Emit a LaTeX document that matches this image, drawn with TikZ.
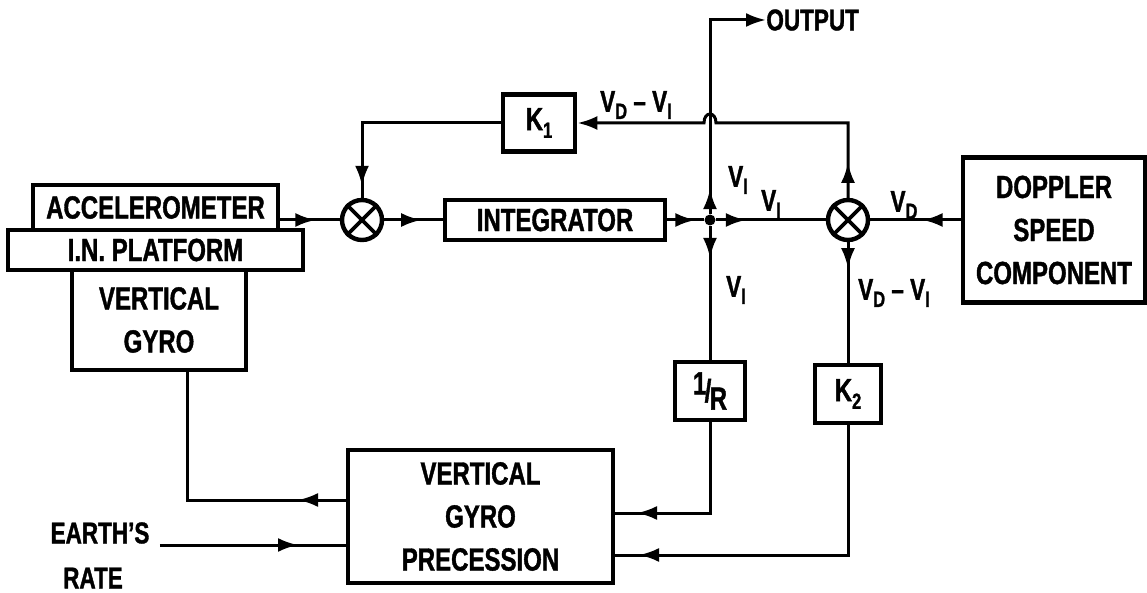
\documentclass[tikz,border=0pt]{standalone}
\usepackage{fontspec}
\setmainfont{Liberation Sans}[FakeStretch=0.75, BoldFeatures={FakeBold=1.2}]
\usetikzlibrary{arrows.meta,decorations.markings}
\newcommand\lsub[1]{\raisebox{-0.45ex}{\fontsize{11}{11}\selectfont #1}}
\begin{document}
\begin{tikzpicture}[x=0.5pt,y=-0.5pt,
  blk/.style={draw,line width=2.4pt,inner sep=0pt,align=center,font=\bfseries\fontsize{16}{21.5}\selectfont},
  lbl/.style={font=\bfseries\fontsize{15}{17}\selectfont,inner sep=0pt},
  sumj/.style={draw,circle,line width=2.2pt,minimum size=20pt,inner sep=0pt},
  wire/.style={line width=1.5pt},
  tip/.style={-{Latex[length=10pt,width=7pt]}},
  arrat/.style={postaction={decorate},decoration={markings,mark=at position #1 with {\arrow{Latex[length=10pt,width=7pt]}}}},
]
\useasboundingbox (0,0) rectangle (1147,593);

% blocks
\node[blk,minimum width=122.5pt,minimum height=22.5pt] (acc) at (155.5,207.5) {ACCELEROMETER};
\node[blk,minimum width=147.5pt,minimum height=20pt] (plat) at (155.5,250) {I.N. PLATFORM};
\node[blk,minimum width=87pt,minimum height=50pt] (gyro) at (159,320) {VERTICAL\\GYRO};
\node[sumj] (s1) at (362,220) {};
\node[blk,minimum width=110pt,minimum height=20pt] (int) at (555,220) {INTEGRATOR};
\node[circle,fill,inner sep=0pt,minimum size=5.5pt] (br) at (710,220) {};
\node[sumj] (s2) at (848,220) {};
\node[blk,minimum width=91pt,minimum height=72.5pt] (dop) at (1054,230) {DOPPLER\\SPEED\\COMPONENT};
\node[blk,minimum width=36pt,minimum height=28.5pt] (k1) at (539,123) {K\lsub{1}};
\node[blk,minimum width=35pt,minimum height=29pt] (ir) at (710,391) {\raisebox{0.45ex}{1}\kern-0.05em/\kern-0.05em\raisebox{-0.45ex}{R}};
\node[blk,minimum width=33pt,minimum height=29pt] (k2) at (848,394) {K\lsub{2}};
\node[blk,minimum width=132.5pt,minimum height=66.5pt] (prec) at (480.5,516.5) {VERTICAL\\GYRO\\PRECESSION};

% texts
\node[anchor=west,inner sep=0pt,font=\bfseries\fontsize{15}{18}\selectfont] (out) at (766,20) {OUTPUT};
\node[inner sep=0pt,font=\bfseries\fontsize{15}{18}\selectfont] (earth) at (100,533) {EARTH’S};
\node[inner sep=0pt,font=\bfseries\fontsize{15}{18}\selectfont] (rate) at (93,578) {RATE};
\node[lbl] (l1) at (636,105) {V\lsub{D} – V\lsub{I}};
\node[lbl] (l2) at (738,180) {V\lsub{I}};
\node[lbl] (l3) at (771,204) {V\lsub{I}};
\node[lbl] (l4) at (736,290) {V\lsub{I}};
\node[lbl] (l5) at (904,205) {V\lsub{D}};
\node[lbl] (l6) at (894,293) {V\lsub{D} – V\lsub{I}};

% crosses in summing junctions
\draw[line width=1.9pt] (s1.45) -- (s1.225) (s1.135) -- (s1.315);
\draw[line width=1.9pt] (s2.45) -- (s2.225) (s2.135) -- (s2.315);

% coordinates
\coordinate (tr) at (848,123);
\coordinate (hr) at (716,123);
\coordinate (hl) at (704,123);
\coordinate (pg) at (348,500);
\coordinate (gb) at (187,370);
\coordinate (pe) at (348,545);
\coordinate (p1) at (613,513);
\coordinate (p2) at (613,555);

% connectors
\draw[wire,arrat=17.5pt] (acc.east |- s1) -- (s1.west);
\draw[wire,arrat=18.5pt] (s1.east) -- (int.west);
\draw[wire,arrat=14pt] (int.east) -- (br);
\draw[wire,arrat=15pt] (br) -- (s2.west);
\draw[wire,arrat=19pt] (s2 -| dop.west) -- (s2.east);
\draw[wire,arrat=12.5pt,tip] (br) |- (out.west);
\draw[wire,arrat=16pt] (br) -- (ir.north);
\draw[wire,arrat=17.5pt,tip] (s2.north) -- (tr) -- (hr) .. controls (716,111) and (704,111) .. (hl) -- (k1.east);
\draw[wire,arrat=-6pt] (k1.west) -| (s1.north);
\draw[wire,arrat=13pt] (s2.south) -- (k2.north);
\draw[wire,arrat=25pt] (pg) -| (gb);
\draw[wire,arrat=-25pt] ([xshift=5pt]earth.east |- pe) -- (pe);
\draw[wire,arrat=-12pt] (ir.south) |- (p1);
\draw[wire,arrat=-13pt] (k2.south) |- (p2);
\end{tikzpicture}
\end{document}
